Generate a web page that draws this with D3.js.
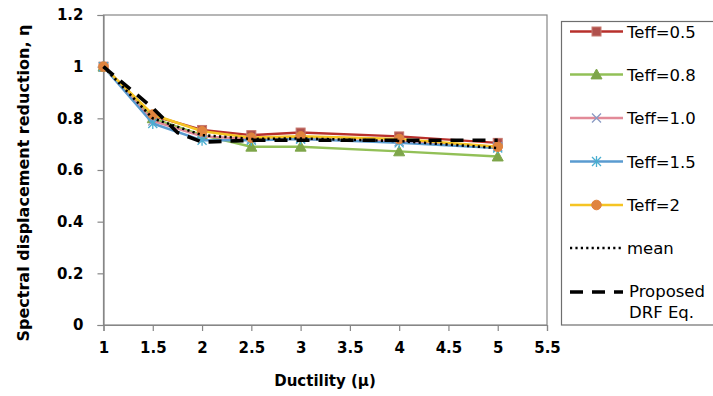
<!DOCTYPE html>
<html>
<head>
<meta charset="utf-8">
<script src="https://cdn.jsdelivr.net/npm/d3@7/dist/d3.min.js"></script>
<style>
  html, body { margin: 0; padding: 0; background: #fff; }
  svg { display: block; }
  text { font-family: "DejaVu Sans", "Open Sans", sans-serif; fill: #000; }
</style>
</head>
<body>
<svg id="chart" width="713" height="396"></svg>
<script>
// Ductility values where each Teff series is sampled
const mu = [1, 1.5, 2, 2.5, 3, 4, 5];

// Spectral displacement reduction per effective period
const teff05 = [1.0, 0.81, 0.755, 0.735, 0.745, 0.73, 0.705];
const teff08 = [1.0, 0.80, 0.735, 0.69, 0.69, 0.672, 0.652];
const teff10 = [1.0, 0.79, 0.73, 0.72, 0.72, 0.71, 0.69];
const teff15 = [1.0, 0.78, 0.715, 0.715, 0.72, 0.705, 0.685];
const teff20 = [1.0, 0.815, 0.75, 0.725, 0.73, 0.72, 0.69];
const meanVals = [1.0, 0.80, 0.735, 0.72, 0.722, 0.712, 0.685];

// Proposed DRF equation curve
const muProposed = [1, 1.5, 1.75, 2, 2.5, 3, 4, 5];
const proposedVals = [1.0, 0.84, 0.745, 0.708, 0.715, 0.715, 0.715, 0.715];

// Axis ticks
const xTicks = [1, 1.5, 2, 2.5, 3, 3.5, 4, 4.5, 5, 5.5];
const xTickLabels = ["1", "1.5", "2", "2.5", "3", "3.5", "4", "4.5", "5", "5.5"];
const yTicks = [0, 0.2, 0.4, 0.6, 0.8, 1, 1.2];
const yTickLabels = ["0", "0.2", "0.4", "0.6", "0.8", "1", "1.2"];

const seriesNames = ["Teff=0.5", "Teff=0.8", "Teff=1.0", "Teff=1.5", "Teff=2", "mean", "Proposed DRF Eq."];

const series = [
  { name: seriesNames[0], x: mu, y: teff05, line: "#b8302c", marker: "square", fill: "#b0504c", stroke: "#c87a70", width: 2.4 },
  { name: seriesNames[1], x: mu, y: teff08, line: "#92c057", marker: "triangle", fill: "#7ea64a", stroke: "#7ea64a", width: 2.4 },
  { name: seriesNames[2], x: mu, y: teff10, line: "#e28a98", marker: "cross", fill: "none", stroke: "#8a9ac4", width: 2.4 },
  { name: seriesNames[3], x: mu, y: teff15, line: "#5a9bd0", marker: "star", fill: "none", stroke: "#4aaed0", width: 2.4 },
  { name: seriesNames[4], x: mu, y: teff20, line: "#f5c423", marker: "circle", fill: "#e0843e", stroke: "#e0843e", width: 2.6 },
  { name: seriesNames[5], x: mu, y: meanVals, line: "#000", marker: null, dash: "2.2,3.2", width: 2.6 },
  { name: seriesNames[6], x: muProposed, y: proposedVals, line: "#000", marker: null, dash: "13,9", width: 3.6 }
];

const svg = d3.select("#chart");
const plot = { left: 103.5, right: 547, top: 15, bottom: 325 };

const x = d3.scaleLinear().domain([1, 5.5]).range([plot.left, plot.right]);
const y = d3.scaleLinear().domain([0, 1.2]).range([plot.bottom, plot.top]);

const axisColor = "#868686";
const tickFont = "'DejaVu Sans', 'Open Sans', sans-serif";

// Plot frame
svg.append("rect")
  .attr("x", plot.left).attr("y", plot.top)
  .attr("width", plot.right - plot.left).attr("height", plot.bottom - plot.top)
  .attr("fill", "none").attr("stroke", axisColor).attr("stroke-width", 1.2);

// Y axis
const yAxis = svg.append("g")
  .attr("transform", `translate(${plot.left},0)`)
  .call(d3.axisLeft(y).tickValues(yTicks).tickSize(6).tickPadding(14)
    .tickFormat((d, i) => yTickLabels[i]));
yAxis.select(".domain").attr("stroke", axisColor).attr("stroke-width", 1.2);
yAxis.selectAll(".tick line").attr("stroke", axisColor).attr("stroke-width", 1.2);
yAxis.selectAll(".tick text")
  .attr("font-size", 15).attr("font-weight", "bold")
  .attr("font-family", tickFont).attr("fill", "#1a1a1a");

// X axis
const xAxis = svg.append("g")
  .attr("transform", `translate(0,${plot.bottom})`)
  .call(d3.axisBottom(x).tickValues(xTicks).tickSize(6).tickPadding(11)
    .tickFormat((d, i) => xTickLabels[i]));
xAxis.select(".domain").attr("stroke", axisColor).attr("stroke-width", 1.2);
xAxis.selectAll(".tick line").attr("stroke", axisColor).attr("stroke-width", 1.2);
xAxis.selectAll(".tick text")
  .attr("font-size", 15).attr("font-weight", "bold")
  .attr("font-family", tickFont).attr("fill", "#1a1a1a");

// Axis titles
svg.append("text")
  .attr("x", 325).attr("y", 386)
  .attr("text-anchor", "middle")
  .attr("font-size", 15).attr("font-weight", "bold")
  .text("Ductility (μ)");

svg.append("text")
  .attr("transform", "translate(29,183) rotate(-90)")
  .attr("text-anchor", "middle")
  .attr("font-size", 16).attr("font-weight", "bold")
  .text("Spectral displacement reduction, η");

// Marker drawing
function drawMarker(g, s, cx, cy, scale) {
  const k = scale || 1;
  if (s.marker === "square") {
    g.append("rect").attr("x", cx - 4.5 * k).attr("y", cy - 4.5 * k)
      .attr("width", 9 * k).attr("height", 9 * k)
      .attr("fill", s.fill).attr("stroke", s.stroke).attr("stroke-width", 1);
  } else if (s.marker === "triangle") {
    const r = 5.5 * k;
    g.append("path")
      .attr("d", `M${cx},${cy - r}L${cx + r},${cy + r * 0.8}L${cx - r},${cy + r * 0.8}Z`)
      .attr("fill", s.fill).attr("stroke", s.stroke).attr("stroke-width", 1);
  } else if (s.marker === "cross") {
    const r = 4.5 * k;
    g.append("path")
      .attr("d", `M${cx - r},${cy - r}L${cx + r},${cy + r}M${cx - r},${cy + r}L${cx + r},${cy - r}`)
      .attr("stroke", s.stroke).attr("stroke-width", 1.3).attr("fill", "none");
  } else if (s.marker === "star") {
    const r = 4.5 * k;
    g.append("path")
      .attr("d", `M${cx - r},${cy - r}L${cx + r},${cy + r}M${cx - r},${cy + r}L${cx + r},${cy - r}M${cx},${cy - r * 1.2}L${cx},${cy + r * 1.2}`)
      .attr("stroke", s.stroke).attr("stroke-width", 1.3).attr("fill", "none");
  } else if (s.marker === "circle") {
    g.append("circle").attr("cx", cx).attr("cy", cy).attr("r", 4.8 * k)
      .attr("fill", s.fill).attr("stroke", s.stroke).attr("stroke-width", 1);
  }
}

// Series lines and markers
const line = d3.line().x(d => x(d[0])).y(d => y(d[1]));
series.forEach(s => {
  const pts = s.x.map((v, i) => [v, s.y[i]]);
  const g = svg.append("g");
  g.append("path")
    .attr("d", line(pts))
    .attr("fill", "none")
    .attr("stroke", s.line)
    .attr("stroke-width", s.width)
    .attr("stroke-dasharray", s.dash || null)
    .attr("stroke-linejoin", "round");
  if (s.marker) pts.forEach(p => drawMarker(g, s, x(p[0]), y(p[1])));
});

// Legend
const legend = svg.append("g");
legend.append("rect")
  .attr("x", 561.5).attr("y", 21.5).attr("width", 160).attr("height", 303.5)
  .attr("fill", "#fff").attr("stroke", "#6e6e6e").attr("stroke-width", 1.2);

const rowY = [31.5, 74.5, 118, 161.5, 205, 248, 292];
series.forEach((s, i) => {
  const ly = rowY[i];
  const lg = legend.append("g");
  lg.append("line")
    .attr("x1", 570).attr("x2", 623).attr("y1", ly).attr("y2", ly)
    .attr("stroke", s.line).attr("stroke-width", s.width)
    .attr("stroke-dasharray", s.dash || null);
  if (s.marker) drawMarker(lg, s, 596.5, ly);
  if (i < 6) {
    lg.append("text").attr("x", 627).attr("y", ly + 6)
      .attr("font-size", 16.5).text(s.name);
  } else {
    lg.append("text").attr("x", 629).attr("y", ly + 5)
      .attr("font-size", 16.5).text("Proposed");
    lg.append("text").attr("x", 629).attr("y", ly + 26)
      .attr("font-size", 16.5).text("DRF Eq.");
  }
});
</script>
</body>
</html>
